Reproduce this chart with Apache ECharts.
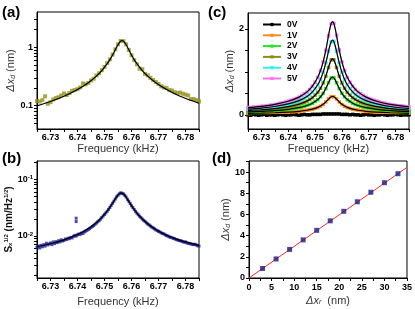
<!DOCTYPE html>
<html><head><meta charset="utf-8">
<script src="https://cdn.jsdelivr.net/npm/echarts@6/dist/echarts.min.js"></script>
<style>html,body{margin:0;padding:0;background:#fff}#c{width:415px;height:309px}</style>
</head><body><div id="c"></div>
<script>
// ---------- data ----------
const freq = [6.725,6.726,6.727,6.728,6.729,6.730,6.731,6.732,6.733,6.734,6.735,6.736,6.737,6.738,6.739,6.740,6.741,6.742,6.743,6.744,6.745,6.746,6.747,6.748,6.749,6.750,6.751,6.752,6.753,6.754,6.755,6.756,6.757,6.758,6.759,6.760,6.761,6.762,6.763,6.764,6.765,6.766,6.767,6.768,6.769,6.770,6.771,6.772,6.773,6.774,6.775,6.776,6.777,6.778,6.779,6.780,6.781,6.782,6.783,6.784,6.785];
const ampA = [0.12,0.118,0.125,0.145,0.108,0.115,0.128,0.135,0.14,0.15,0.162,0.152,0.165,0.18,0.185,0.192,0.205,0.24,0.232,0.245,0.27,0.29,0.33,0.36,0.405,0.46,0.535,0.62,0.75,0.92,1.12,1.28,1.27,1.12,0.9,0.73,0.6,0.51,0.43,0.42,0.35,0.33,0.3,0.275,0.255,0.235,0.215,0.205,0.2,0.185,0.182,0.17,0.165,0.168,0.16,0.155,0.15,0.13,0.13,0.125,0.118];
const fitFreq = [6.725,6.730,6.735,6.740,6.744,6.747,6.749,6.751,6.752,6.753,6.754,6.755,6.7555,6.756,6.7565,6.757,6.7575,6.758,6.759,6.760,6.761,6.762,6.764,6.766,6.769,6.773,6.778,6.785];
const fitA = [0.0995,0.118,0.145,0.189,0.247,0.320,0.399,0.524,0.615,0.738,0.902,1.105,1.201,1.273,1.30,1.273,1.201,1.105,0.902,0.738,0.615,0.524,0.399,0.320,0.247,0.189,0.145,0.110];

const voltNames = ['0V','1V','2V','3V','4V','5V'];
const volt0 = [0.0,-0.01,0.01,0.0,-0.01,0.0,0.01,-0.01,0.0,0.0,-0.01,0.0,0.01,0.0,-0.01,0.0,0.0,0.01,0.0,-0.01,0.0,0.01,0.0,0.0,0.01,0.01,0.01,0.01,0.02,0.02,0.02,0.02,0.02,0.02,0.02,0.01,0.01,0.01,0.0,0.01,0.0,0.0,-0.01,0.0,0.01,0.0,0.0,-0.01,0.0,0.0,0.01,0.0,-0.01,0.0,0.0,0.01,0.0,-0.01,0.0,0.0,0.0];
const volt1 = [0.03,0.03,0.04,0.04,0.04,0.04,0.04,0.04,0.04,0.05,0.05,0.05,0.05,0.06,0.06,0.06,0.07,0.07,0.08,0.08,0.09,0.1,0.11,0.12,0.13,0.15,0.17,0.2,0.24,0.3,0.37,0.42,0.42,0.37,0.3,0.24,0.2,0.17,0.15,0.13,0.12,0.11,0.1,0.09,0.08,0.08,0.07,0.07,0.06,0.06,0.06,0.05,0.05,0.05,0.05,0.04,0.04,0.04,0.04,0.04,0.04];
const volt2 = [0.07,0.07,0.07,0.07,0.08,0.08,0.08,0.09,0.09,0.09,0.1,0.1,0.11,0.11,0.12,0.13,0.14,0.14,0.16,0.17,0.18,0.2,0.22,0.24,0.27,0.31,0.35,0.42,0.5,0.61,0.75,0.86,0.86,0.75,0.61,0.5,0.42,0.35,0.31,0.27,0.24,0.22,0.2,0.18,0.17,0.16,0.14,0.14,0.13,0.12,0.11,0.11,0.1,0.1,0.09,0.09,0.09,0.08,0.08,0.08,0.07];
const volt3 = [0.1,0.1,0.11,0.11,0.11,0.12,0.12,0.13,0.13,0.14,0.15,0.15,0.16,0.17,0.18,0.19,0.2,0.21,0.23,0.25,0.27,0.29,0.32,0.36,0.4,0.46,0.52,0.62,0.74,0.9,1.1,1.28,1.28,1.1,0.9,0.74,0.62,0.52,0.46,0.4,0.36,0.32,0.29,0.27,0.25,0.23,0.21,0.2,0.19,0.18,0.17,0.16,0.15,0.15,0.14,0.13,0.13,0.12,0.12,0.11,0.11];
const volt4 = [0.13,0.14,0.14,0.15,0.15,0.16,0.16,0.17,0.18,0.19,0.19,0.2,0.21,0.23,0.24,0.25,0.27,0.29,0.31,0.33,0.36,0.39,0.43,0.47,0.53,0.61,0.7,0.82,0.99,1.21,1.48,1.7,1.71,1.48,1.21,0.99,0.82,0.7,0.61,0.53,0.47,0.43,0.39,0.36,0.33,0.31,0.29,0.27,0.25,0.24,0.23,0.21,0.2,0.19,0.19,0.18,0.17,0.16,0.16,0.15,0.15];
const volt5 = [0.17,0.17,0.18,0.18,0.19,0.2,0.2,0.21,0.22,0.23,0.24,0.25,0.27,0.28,0.3,0.32,0.34,0.36,0.38,0.41,0.45,0.49,0.53,0.59,0.67,0.76,0.87,1.03,1.23,1.5,1.84,2.12,2.13,1.85,1.51,1.23,1.03,0.87,0.76,0.67,0.59,0.53,0.49,0.45,0.41,0.38,0.36,0.34,0.32,0.3,0.28,0.27,0.25,0.24,0.23,0.22,0.21,0.21,0.2,0.19,0.18];
const fit0 = [0.0015,0.0018,0.0022,0.0028,0.0037,0.0048,0.006,0.008,0.009,0.011,0.014,0.017,0.018,0.019,0.02,0.019,0.018,0.017,0.014,0.011,0.009,0.008,0.006,0.005,0.0037,0.0028,0.0022,0.0017];
const fit1 = [0.033,0.039,0.048,0.063,0.082,0.106,0.132,0.173,0.204,0.244,0.299,0.366,0.398,0.421,0.43,0.421,0.398,0.366,0.299,0.244,0.204,0.173,0.132,0.106,0.082,0.063,0.048,0.036];
const fit2 = [0.067,0.080,0.098,0.128,0.167,0.217,0.270,0.355,0.416,0.500,0.611,0.748,0.813,0.862,0.88,0.862,0.813,0.748,0.611,0.500,0.416,0.355,0.270,0.217,0.167,0.128,0.098,0.074];
const fit3 = [0.0995,0.118,0.145,0.189,0.247,0.320,0.399,0.524,0.615,0.738,0.902,1.105,1.201,1.273,1.30,1.273,1.201,1.105,0.902,0.738,0.615,0.524,0.399,0.320,0.247,0.189,0.145,0.110];
const fit4 = [0.133,0.158,0.194,0.253,0.330,0.428,0.534,0.701,0.823,0.987,1.207,1.478,1.607,1.703,1.74,1.703,1.607,1.478,1.207,0.987,0.823,0.701,0.534,0.428,0.330,0.253,0.194,0.147];
const fit5 = [0.166,0.197,0.242,0.315,0.412,0.534,0.666,0.875,1.026,1.232,1.505,1.844,2.004,2.125,2.17,2.125,2.004,1.844,1.505,1.232,1.026,0.875,0.666,0.534,0.412,0.315,0.242,0.184];

const freqB = [6.725,6.7255,6.726,6.7265,6.727,6.7275,6.728,6.7285,6.729,6.7295,6.73,6.7305,6.731,6.7315,6.732,6.7325,6.733,6.7335,6.734,6.7345,6.735,6.7355,6.736,6.7365,6.737,6.7375,6.738,6.7385,6.739,6.7395,6.74,6.7405,6.741,6.7415,6.742,6.7425,6.743,6.7435,6.744,6.7445,6.745,6.7455,6.746,6.7465,6.747,6.7475,6.748,6.7485,6.749,6.7495,6.75,6.7505,6.751,6.7515,6.752,6.7525,6.753,6.7535,6.754,6.7545,6.755,6.7555,6.756,6.7565,6.757,6.7575,6.758,6.7585,6.759,6.7595,6.76,6.7605,6.761,6.7615,6.762,6.7625,6.763,6.7635,6.764,6.7645,6.765,6.7655,6.766,6.7665,6.767,6.7675,6.768,6.7685,6.769,6.7695,6.77,6.7705,6.771,6.7715,6.772,6.7725,6.773,6.7735,6.774,6.7745,6.775,6.7755,6.776,6.7765,6.777,6.7775,6.778,6.7785,6.779,6.7795,6.78,6.7805,6.781,6.7815,6.782,6.7825,6.783,6.7835,6.784,6.7845,6.785];
const spectB = [0.0063,0.0066,0.0061,0.0068,0.0064,0.0070,0.0066,0.0074,0.0069,0.0072,0.0075,0.0070,0.0078,0.0073,0.0079,0.0076,0.0082,0.0078,0.0085,0.0081,0.0083,0.0088,0.0086,0.0091,0.0089,0.0094,0.0092,0.0098,0.0102,0.0099,0.0104,0.0108,0.0106,0.0112,0.0110,0.0117,0.0121,0.0125,0.0130,0.0134,0.0141,0.0146,0.0152,0.0160,0.0168,0.0177,0.0186,0.0197,0.0210,0.0224,0.0238,0.0254,0.0272,0.0293,0.0318,0.0346,0.0376,0.0410,0.0448,0.0488,0.0522,0.0552,0.0575,0.0565,0.0552,0.0520,0.0485,0.0442,0.0408,0.0372,0.0340,0.0316,0.0292,0.0270,0.0252,0.0236,0.0222,0.0210,0.0198,0.0188,0.0180,0.0170,0.0162,0.0156,0.0149,0.0143,0.0138,0.0133,0.0128,0.0124,0.0120,0.0117,0.0113,0.0110,0.0108,0.0104,0.0101,0.0099,0.0096,0.0094,0.0093,0.0090,0.0089,0.0086,0.0085,0.0083,0.0082,0.0081,0.0079,0.0077,0.0078,0.0075,0.0074,0.0073,0.0072,0.0071,0.0070,0.0071,0.0069,0.0067,0.0066];
const outFreqB = [6.7395,6.7395];
const outB = [0.0205,0.0179];
const fitFreqB = [6.725,6.730,6.735,6.740,6.744,6.747,6.749,6.751,6.752,6.753,6.754,6.755,6.756,6.757,6.758,6.759,6.760,6.761,6.762,6.764,6.766,6.769,6.773,6.778,6.785];
const fitB = [0.00646,0.00726,0.00851,0.01057,0.01343,0.01722,0.02126,0.0275,0.0321,0.0380,0.0452,0.0526,0.0570,0.0549,0.0483,0.0407,0.0342,0.0292,0.0253,0.0199,0.0163,0.0129,0.01023,0.00832,0.0068];

const xD = [3,6,9,12,15,18,21,24,27,30,33];
const yD = [0.9,1.8,2.7,3.6,4.5,5.4,6.3,7.2,8.1,9.0,9.85];
const lineXD = [0,35];
const lineYD = [0,10.45];

// tick labels
const freqLabels = [6.73,6.74,6.75,6.76,6.77,6.78];
const freqTicks = [6.725,6.73,6.735,6.74,6.745,6.75,6.755,6.76,6.765,6.77,6.775,6.78,6.785];
const aLabels = [0.1,1];
const aTicks = [0.05,0.06,0.07,0.08,0.09,0.1,0.2,0.3,0.4,0.5,0.6,0.7,0.8,0.9,1,2,3];
const bLabels = [0.01,0.1];
const bTicks = [0.002,0.003,0.004,0.005,0.006,0.007,0.008,0.009,0.01,0.02,0.03,0.04,0.05,0.06,0.07,0.08,0.09,0.1,0.2];
const cLabels = [0,2];
const cTicks = [0,0.5,1,1.5,2];
const dxLabels = [0,5,10,15,20,25,30,35];
const dxTicks = [0,2.5,5,7.5,10,12.5,15,17.5,20,22.5,25,27.5,30,32.5,35];
const dyLabels = [0,2,4,6,8,10];
const dyTicks = [0,1,2,3,4,5,6,7,8,9,10,11];

// ---------- chart ----------
const FONT = 'Liberation Sans';
const zip = (x, y) => x.map((v, i) => [v, y[i]]);
const chart = echarts.init(document.getElementById('c'), null, {renderer: 'canvas', width: 415, height: 309});

const lbl = {fontFamily: FONT, fontSize: 9, fontWeight: 'bold', color: '#000'};
const axLine = {show: true, onZero: false, lineStyle: {color: '#000', width: 1}};
function tick(vals) { return {show: true, customValues: vals, length: 3, lineStyle: {color: '#000', width: 1}}; }
const subRich = {
  it: {fontFamily: FONT, fontSize: 11, fontStyle: 'italic', color: '#333'},
  sub: {fontFamily: FONT, fontSize: 7, fontStyle: 'italic', color: '#333', verticalAlign: 'bottom', padding: [4, 0, 0, 0]},
  n: {fontFamily: FONT, fontSize: 11, color: '#333'}
};
function freqAxis(gi, gap) {
  return {type: 'value', gridIndex: gi, min: 6.725, max: 6.785,
    axisLine: axLine, axisTick: tick(freqTicks),
    axisLabel: Object.assign({customValues: freqLabels, formatter: v => (+v).toFixed(2), margin: 4}, lbl),
    splitLine: {show: false},
    name: 'Frequency (kHz)', nameLocation: 'middle', nameGap: gap,
    nameTextStyle: {fontFamily: FONT, fontSize: 11, color: '#333'}};
}

const colorsC = ['#000000', '#ff8a1c', '#2ae02a', '#8c8c1a', '#36eeee', '#f276f2'];
const voltData = [volt0, volt1, volt2, volt3, volt4, volt5];
const fitData = [fit0, fit1, fit2, fit3, fit4, fit5];

const series = [];
// (a)
series.push({type: 'scatter', xAxisIndex: 0, yAxisIndex: 0, data: zip(freq, ampA), symbol: 'rect', symbolSize: 4, itemStyle: {color: '#93931f'}, z: 2});
series.push({type: 'line', xAxisIndex: 0, yAxisIndex: 0, data: zip(fitFreq, fitA), showSymbol: false, smooth: 0.3, lineStyle: {color: '#000', width: 1.2}, z: 3});
// (c)
voltData.forEach((d, i) => {
  series.push({name: voltNames[i], type: 'line', xAxisIndex: 1, yAxisIndex: 1, data: zip(freq, d),
    symbol: 'rect', symbolSize: 3.5, showSymbol: true, showAllSymbol: true,
    itemStyle: {color: colorsC[i]}, lineStyle: {color: colorsC[i], width: 1}, z: 2});
});
fitData.forEach((d) => {
  series.push({type: 'line', xAxisIndex: 1, yAxisIndex: 1, data: zip(fitFreq, d), showSymbol: false, smooth: 0.3,
    lineStyle: {color: '#000', width: 1.2}, z: 3});
});
// (b)
series.push({type: 'scatter', xAxisIndex: 2, yAxisIndex: 2, data: zip(freqB, spectB).concat(zip(outFreqB, outB)), symbol: 'rect', symbolSize: 3, itemStyle: {color: '#1f1f9c'}, z: 2});
series.push({type: 'line', xAxisIndex: 2, yAxisIndex: 2, data: zip(fitFreqB, fitB), showSymbol: false, smooth: 0.3, lineStyle: {color: '#000', width: 1.2}, z: 3});
// (d)
series.push({type: 'line', xAxisIndex: 3, yAxisIndex: 3, data: zip(lineXD, lineYD), showSymbol: false, lineStyle: {color: '#ff2a2a', width: 1}, z: 2});
series.push({type: 'scatter', xAxisIndex: 3, yAxisIndex: 3, data: zip(xD, yD), symbol: 'rect', symbolSize: 5, itemStyle: {color: '#1a1a80'}, z: 3});

const gridBase = {show: true, borderColor: '#000', borderWidth: 1, containLabel: false, backgroundColor: 'transparent'};

chart.setOption({
  animation: false,
  backgroundColor: '#fff',
  grid: [
    Object.assign({left: 37, top: 12, width: 162, height: 117}, gridBase),
    Object.assign({left: 248, top: 13, width: 161, height: 116}, gridBase),
    Object.assign({left: 37, top: 161, width: 162, height: 117}, gridBase),
    Object.assign({left: 249, top: 161, width: 161, height: 117}, gridBase)
  ],
  xAxis: [
    freqAxis(0, 14),
    freqAxis(1, 14),
    freqAxis(2, 18),
    {type: 'value', gridIndex: 3, min: 0, max: 35,
      axisLine: axLine, axisTick: tick(dxTicks),
      axisLabel: Object.assign({customValues: dxLabels, margin: 5}, lbl),
      splitLine: {show: false},
      name: '{it|Δx}{sub|r}{n|  (nm)}', nameLocation: 'middle', nameGap: 17,
      nameTextStyle: {rich: subRich}}
  ],
  yAxis: [
    {type: 'log', logBase: 10, gridIndex: 0, min: 0.04, max: 4,
      axisLine: axLine, axisTick: tick(aTicks),
      axisLabel: Object.assign({customValues: aLabels, formatter: v => (v < 1 ? (+v).toFixed(1) : (+v).toFixed(0)), margin: 4}, lbl),
      splitLine: {show: false},
      name: '{it|Δx}{sub|d}{n| (nm)}', nameLocation: 'middle', nameRotate: 90, nameGap: 16,
      nameTextStyle: {rich: subRich}},
    {type: 'value', gridIndex: 1, min: -0.33, max: 2.37,
      axisLine: axLine, axisTick: tick(cTicks),
      axisLabel: Object.assign({customValues: cLabels, margin: 4}, lbl),
      splitLine: {show: false},
      name: '{it|Δx}{sub|d}{n| (nm)}', nameLocation: 'middle', nameRotate: 90, nameGap: 8,
      nameTextStyle: {rich: subRich}},
    {type: 'log', logBase: 10, gridIndex: 2, min: 0.0018, max: 0.21,
      axisLine: axLine, axisTick: tick(bTicks),
      axisLabel: Object.assign({customValues: bLabels, margin: 4,
        formatter: v => '{b|10}{s|' + Math.round(Math.log10(v)) + '}',
        rich: {b: {fontFamily: FONT, fontSize: 9, fontWeight: 'bold', color: '#000'},
               s: {fontFamily: FONT, fontSize: 6, fontWeight: 'bold', color: '#000', verticalAlign: 'top', padding: [0, 0, 4, 0]}}}, lbl),
      splitLine: {show: false},
      name: '{b|S}{s|x}{p|1/2}{b| (nm/Hz}{p|1/2}{b|)}', nameLocation: 'middle', nameRotate: 90, nameGap: 19,
      nameTextStyle: {rich: {
        b: {fontFamily: FONT, fontSize: 10, fontWeight: 'bold', color: '#111'},
        s: {fontFamily: FONT, fontSize: 6, fontWeight: 'bold', color: '#111', verticalAlign: 'bottom', padding: [4, 0, 0, 0]},
        p: {fontFamily: FONT, fontSize: 6, fontWeight: 'bold', color: '#111', verticalAlign: 'top', padding: [0, 0, 4, 0]}}}},
    {type: 'value', gridIndex: 3, min: 0, max: 11.05,
      axisLine: axLine, axisTick: tick(dyTicks),
      axisLabel: Object.assign({customValues: dyLabels, margin: 4}, lbl),
      splitLine: {show: false},
      name: '{it|Δx}{sub|d}{n| (nm)}', nameLocation: 'middle', nameRotate: 90, nameGap: 13,
      nameTextStyle: {rich: subRich}}
  ],
  legend: {
    data: voltNames, orient: 'vertical', left: 262, top: 20,
    itemWidth: 18, itemHeight: 4, itemGap: 1.8, padding: 0,
    textStyle: {fontFamily: FONT, fontSize: 8.5, fontWeight: 'bold', color: '#000', lineHeight: 8, padding: [0, 0, 0, 1]},
    selectedMode: false
  },
  graphic: [
    {type: 'text', left: 2, top: 5, style: {text: '(a)', font: 'bold 15px "Liberation Sans"', fill: '#000'}},
    {type: 'text', left: 208, top: 5, style: {text: '(c)', font: 'bold 15px "Liberation Sans"', fill: '#000'}},
    {type: 'text', left: 2, top: 151, style: {text: '(b)', font: 'bold 15px "Liberation Sans"', fill: '#000'}},
    {type: 'text', left: 212, top: 151, style: {text: '(d)', font: 'bold 15px "Liberation Sans"', fill: '#000'}}
  ],
  series: series
});
</script></body></html>
